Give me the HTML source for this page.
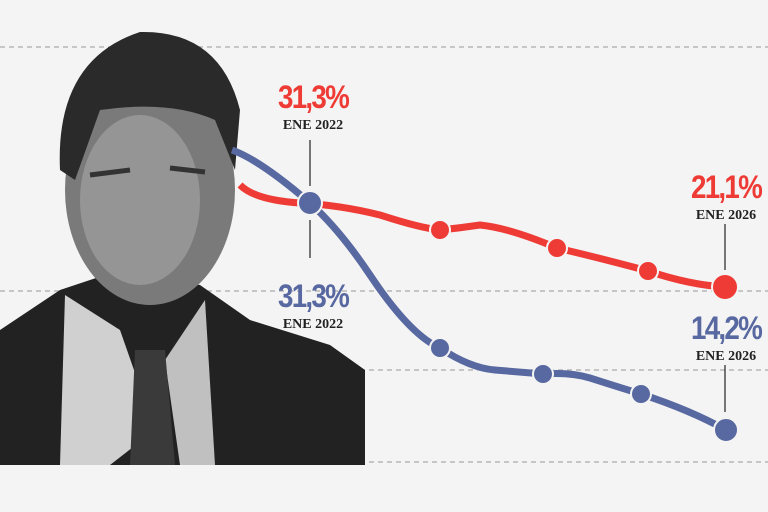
<!DOCTYPE html>
<html><head><meta charset="utf-8"><style>
body{margin:0;background:#f4f4f4;}
svg{display:block}
.pct{font-family:"Liberation Sans",sans-serif;font-weight:bold;font-size:32px;letter-spacing:-2px}
.ene{font-family:"Liberation Serif",serif;font-weight:bold;font-size:14px;fill:#222}
</style></head><body>
<svg width="768" height="512" viewBox="0 0 768 512">
<rect width="768" height="512" fill="#f4f4f4"/>
<g stroke="#aaa" stroke-width="1.3" stroke-dasharray="5,4">
<line x1="0" y1="47" x2="768" y2="47"/>
<line x1="0" y1="291" x2="768" y2="291"/>
<line x1="0" y1="370" x2="768" y2="370"/>
<line x1="0" y1="462" x2="768" y2="462"/>
</g>
<g>
<path d="M0 330 L60 290 L120 270 L200 285 L250 320 L330 345 L365 370 L365 465 L0 465 Z" fill="#222"/>
<path d="M65 295 L120 330 L155 430 L110 465 L60 465 Z" fill="#d0d0d0"/>
<path d="M205 300 L165 360 L180 465 L215 465 Z" fill="#c0c0c0"/>
<path d="M135 350 L165 350 L175 465 L130 465 Z" fill="#3a3a3a"/>
<ellipse cx="150" cy="190" rx="85" ry="115" fill="#7a7a7a"/>
<ellipse cx="140" cy="200" rx="60" ry="85" fill="#959595"/>
<path d="M60 170 Q55 60 140 32 Q220 30 240 110 L235 170 L215 120 Q170 100 100 110 L75 180 Z" fill="#2a2a2a"/>
<path d="M90 175 L130 170 M170 168 L205 172" stroke="#333" stroke-width="5"/>
</g>
<g stroke="#222" stroke-width="1.2">
<line x1="310" y1="140" x2="310" y2="186"/>
<line x1="310" y1="220" x2="310" y2="258"/>
<line x1="725" y1="224" x2="725" y2="270"/>
<line x1="725" y1="365" x2="725" y2="412"/>
</g>
<path d="M240 185 Q255 200 300 203 Q340 205 380 215 Q420 228 440 230 Q460 228 480 225 Q510 228 557 248 Q600 258 648 271 Q690 285 725 287" fill="none" stroke="#ef3b35" stroke-width="7"/>
<g fill="#ef3b35" stroke="#f4f4f4" stroke-width="2">
<circle cx="440" cy="230" r="10"/><circle cx="557" cy="248" r="10"/><circle cx="648" cy="271" r="10"/><circle cx="725" cy="287" r="13"/>
</g>
<path d="M232 150 Q260 160 310 203 Q340 230 370 275 Q410 335 440 348 Q470 368 495 370 Q520 372 543 374 Q570 372 590 378 Q615 386 641 394 Q690 410 726 430" fill="none" stroke="#5868a0" stroke-width="7"/>
<g fill="#5868a0" stroke="#f4f4f4" stroke-width="2">
<circle cx="310" cy="203" r="12"/><circle cx="440" cy="348" r="10"/><circle cx="543" cy="374" r="10"/><circle cx="641" cy="394" r="10"/><circle cx="726" cy="430" r="12"/>
</g>
<text class="pct" x="313" y="108" text-anchor="middle" fill="#ef3b35" textLength="70" lengthAdjust="spacingAndGlyphs">31,3%</text>
<text class="ene" x="313" y="129" text-anchor="middle">ENE 2022</text>
<text class="pct" x="313" y="307" text-anchor="middle" fill="#5868a0" textLength="70" lengthAdjust="spacingAndGlyphs">31,3%</text>
<text class="ene" x="313" y="328" text-anchor="middle">ENE 2022</text>
<text class="pct" x="726" y="198" text-anchor="middle" fill="#ef3b35" textLength="70" lengthAdjust="spacingAndGlyphs">21,1%</text>
<text class="ene" x="726" y="219" text-anchor="middle">ENE 2026</text>
<text class="pct" x="726" y="339" text-anchor="middle" fill="#5868a0" textLength="70" lengthAdjust="spacingAndGlyphs">14,2%</text>
<text class="ene" x="726" y="360" text-anchor="middle">ENE 2026</text>
</svg>
</body></html>
